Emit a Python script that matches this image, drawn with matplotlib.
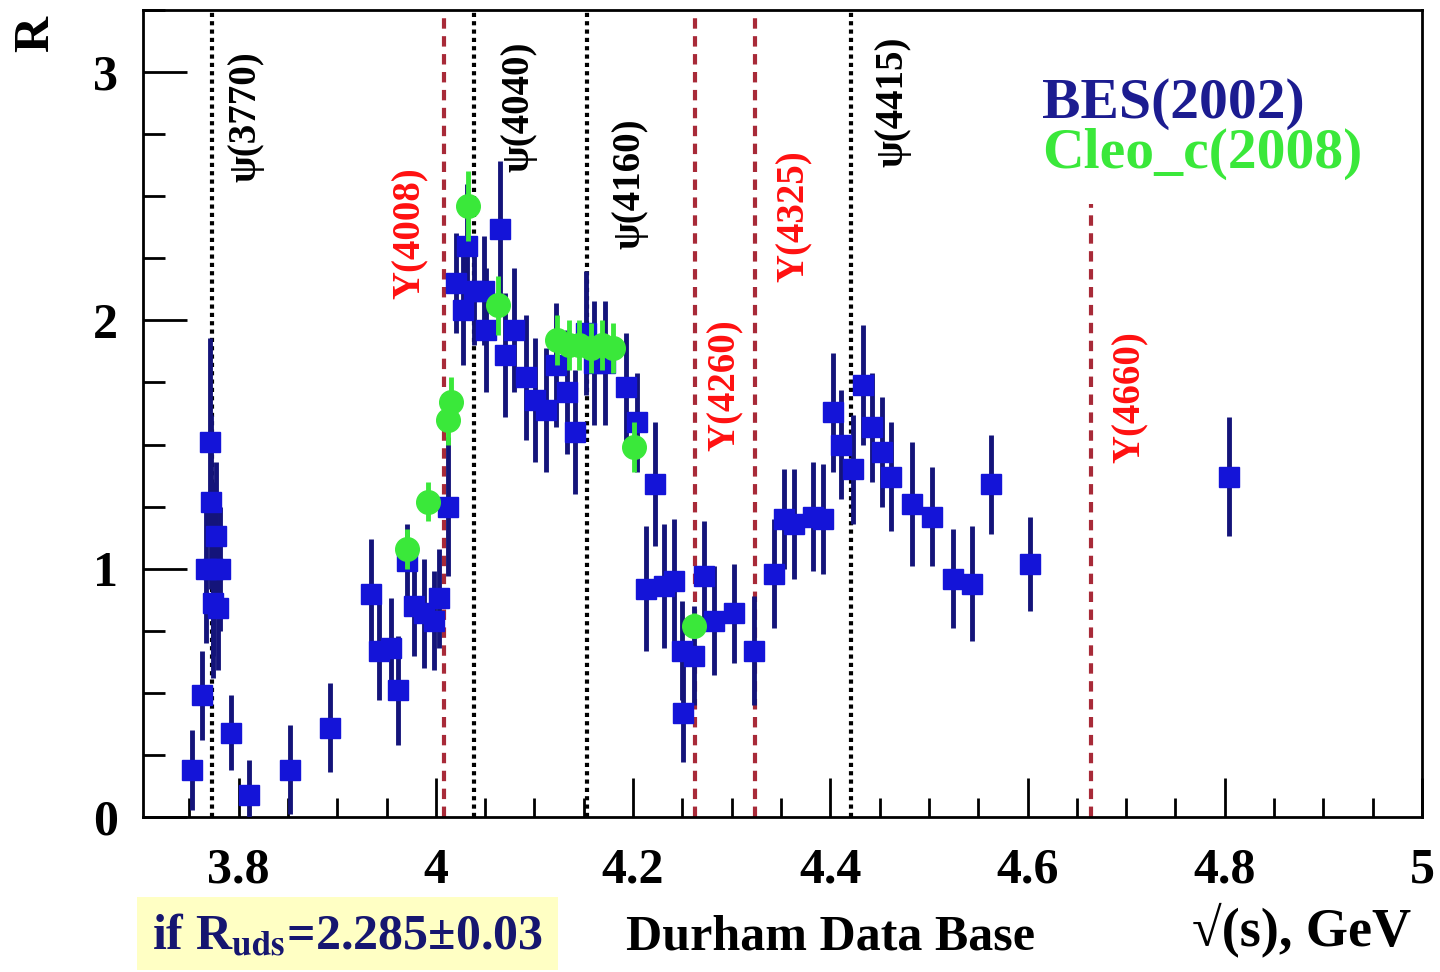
import numpy as np
import matplotlib.pyplot as plt
from matplotlib.patches import Rectangle
from matplotlib.ticker import MultipleLocator, FormatStrFormatter

plt.rcParams['font.family'] = ['Liberation Serif', 'DejaVu Serif']
plt.rcParams['font.weight'] = 'bold'
plt.rcParams['mathtext.fontset'] = 'stix'

# BES (2002) R scan: sqrt(s) in GeV, R, error
bes_e = [3.753, 3.763, 3.767, 3.771, 3.772, 3.774, 3.774, 3.777, 3.779, 3.781,
         3.792, 3.811, 3.852, 3.893, 3.934, 3.942, 3.954, 3.962, 3.971, 3.978,
         3.988, 3.998, 4.003, 4.012, 4.020, 4.028, 4.032, 4.039, 4.049, 4.051,
         4.065, 4.070, 4.079, 4.091, 4.101, 4.112, 4.122, 4.133, 4.141, 4.152,
         4.160, 4.172, 4.193, 4.204, 4.213, 4.222, 4.231, 4.241, 4.250, 4.251,
         4.262, 4.272, 4.282, 4.302, 4.323, 4.343, 4.353, 4.363, 4.382, 4.393,
         4.403, 4.411, 4.423, 4.433, 4.442, 4.452, 4.462, 4.483, 4.503, 4.524,
         4.544, 4.563, 4.602, 4.804]
bes_r = [0.19, 0.49, 1.00, 1.51, 1.27, 1.00, 0.86, 1.13, 0.84, 1.00,
         0.34, 0.09, 0.19, 0.36, 0.90, 0.67, 0.68, 0.51, 1.03, 0.85,
         0.82, 0.79, 0.88, 1.25, 2.15, 2.04, 2.30, 2.12, 2.12, 1.96,
         2.37, 1.86, 1.96, 1.77, 1.68, 1.64, 1.82, 1.71, 1.55, 1.95,
         1.83, 1.83, 1.73, 1.59, 0.92, 1.34, 0.93, 0.95, 0.67, 0.42,
         0.65, 0.97, 0.79, 0.82, 0.67, 0.98, 1.20, 1.18, 1.21, 1.20,
         1.63, 1.50, 1.40, 1.74, 1.57, 1.47, 1.37, 1.26, 1.21, 0.96,
         0.94, 1.34, 1.02, 1.37]
bes_err = [0.16, 0.18, 0.30, 0.42, 0.35, 0.35, 0.30, 0.30, 0.25, 0.25,
           0.15, 0.14, 0.18, 0.18, 0.22, 0.20, 0.20, 0.22, 0.15, 0.20,
           0.22, 0.20, 0.20, 0.28, 0.20, 0.22, 0.25, 0.22, 0.22, 0.25,
           0.27, 0.25, 0.25, 0.25, 0.25, 0.25, 0.25, 0.25, 0.25, 0.25,
           0.25, 0.25, 0.22, 0.20, 0.25, 0.25, 0.25, 0.25, 0.20, 0.20,
           0.20, 0.22, 0.22, 0.20, 0.22, 0.22, 0.20, 0.22, 0.22, 0.22,
           0.24, 0.22, 0.22, 0.24, 0.22, 0.22, 0.22, 0.25, 0.20, 0.20,
           0.23, 0.20, 0.19, 0.24]

# CLEO-c (2008)
cleo_e = [3.971, 3.992, 4.012, 4.015, 4.033, 4.063, 4.123, 4.135, 4.145, 4.157,
          4.168, 4.180, 4.201, 4.262]
cleo_r = [1.08, 1.27, 1.60, 1.67, 2.46, 2.06, 1.92, 1.90, 1.90, 1.89,
          1.90, 1.89, 1.49, 0.77]
cleo_err = [0.08, 0.08, 0.10, 0.10, 0.14, 0.12, 0.10, 0.10, 0.10, 0.10,
            0.10, 0.10, 0.10, 0.05]

# resonances: mass in GeV, label
psi_mass = [3.773, 4.039, 4.153, 4.421]
psi_names = ['ψ(3770)', 'ψ(4040)', 'ψ(4160)', 'ψ(4415)']
y_mass = [4.008, 4.263, 4.324, 4.664]
y_names = ['Y(4008)', 'Y(4260)', 'Y(4325)', 'Y(4660)']

fig = plt.figure(figsize=(14.4, 9.72), dpi=100)
ax = fig.add_axes([0.0993, 0.1595, 0.8882, 0.8302])

# vertical resonance lines
for m in psi_mass:
    ax.axvline(m, color='black', lw=3, ls=(0, (1, 1)), zorder=1)
for m in y_mass:
    top = 2.47 if m > 4.6 else 3.3
    ax.plot([m, m], [0, top], color='#a82a38', lw=3, ls=(0, (2.5, 1.8)), zorder=1)

# resonance labels (x, y of text centre)
psi_lab_pos = [(3.807, 2.82), (4.084, 2.86), (4.197, 2.55), (4.464, 2.88)]
y_lab_pos = [(3.974, 2.35), (4.294, 1.74), (4.363, 2.42), (4.704, 1.69)]
for (tx, ty), name in zip(psi_lab_pos, psi_names):
    ax.text(tx, ty, name, rotation=90, ha='center', va='center',
            fontsize=28, color='black', fontweight='bold')
for (tx, ty), name in zip(y_lab_pos, y_names):
    ax.text(tx, ty, name, rotation=90, ha='center', va='center',
            fontsize=28, color='#ff1010', fontweight='bold')

ax.errorbar(bes_e, bes_r, yerr=bes_err, fmt='s', ms=14.5, mfc='#1414d8', mec='#1414d8',
            ecolor='#14147a', elinewidth=3.5, capsize=0, zorder=3)
ax.errorbar(cleo_e, cleo_r, yerr=cleo_err, fmt='o', ms=17, mfc='#3ae83a', mec='#3ae83a',
            ecolor='#3ae83a', elinewidth=3.5, capsize=0, zorder=4)

ax.set_xlim(3.703, 5.0)
ax.set_ylim(0, 3.25)

ax.xaxis.set_major_locator(MultipleLocator(0.2))
ax.xaxis.set_minor_locator(MultipleLocator(0.05))
ax.yaxis.set_major_locator(MultipleLocator(1))
ax.yaxis.set_minor_locator(MultipleLocator(0.25))
ax.xaxis.set_major_formatter(FormatStrFormatter('%g'))
ax.yaxis.set_major_formatter(FormatStrFormatter('%g'))
ax.tick_params(which='major', direction='in', length=28, width=2, labelsize=36, pad=22)
ax.tick_params(which='minor', direction='in', length=14, width=2)
ax.tick_params(axis='y', which='major', length=32, pad=18)
ax.tick_params(axis='y', which='minor', length=16)
ax.tick_params(top=False, right=False, which='both')
for lab in ax.get_xticklabels() + ax.get_yticklabels():
    lab.set_fontweight('bold')
for sp in ax.spines.values():
    sp.set_linewidth(2)

# legend as coloured text
ax.text(0.703, 0.884, 'BES(2002)', transform=ax.transAxes, fontsize=41.5,
        color='#1c1c90', fontweight='bold', va='center', ha='left')
ax.text(0.703, 0.822, 'Cleo_c(2008)', transform=ax.transAxes, fontsize=41.5,
        color='#3ae83a', fontweight='bold', va='center', ha='left')

# axis titles and notes
fig.text(0.025, 0.965, 'R', rotation=90, fontsize=36, fontweight='bold',
         ha='center', va='center')
fig.text(0.904, 0.043, '√(s), GeV', fontsize=39, fontweight='bold',
         ha='center', va='center')
fig.text(0.577, 0.036, 'Durham Data Base', fontsize=36, fontweight='bold',
         ha='center', va='center')
fig.patches.append(Rectangle((0.0951, 0.002), 0.2924, 0.075, transform=fig.transFigure,
                             facecolor='#ffffc4', edgecolor='none', zorder=0))
fig.text(0.2415, 0.036, r'if R$_{\mathbf{uds}}$=2.285±0.03', fontsize=36,
         fontweight='bold', color='#161670', ha='center', va='center')

fig.savefig('out.png', dpi=100)
